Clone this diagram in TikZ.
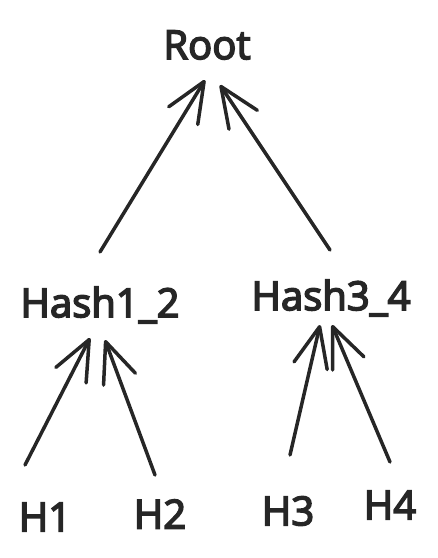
\documentclass[tikz,border=0pt]{standalone}
\usepackage{fontspec}
\setmainfont{Open Sans}[FakeBold=4]
\usetikzlibrary{arrows.meta,positioning}
\tikzset{
  lbl/.style={font=\fontsize{40}{44}\selectfont, text=black!85},
  arr/.style={line width=3.5pt, line cap=round, black!85,
    -{Straight Barb[length=40pt,width=34pt,line width=3.5pt,round]}}
}
\begin{document}
\begin{tikzpicture}[x=1pt,y=1pt]
\useasboundingbox (0,0) rectangle (438,-558);
\node[lbl] (root) at (207,-45) {Root};
\node[lbl] (hash12) at (100,-305) {Hash1\_2};
\node[lbl] (hash34) at (331,-298) {Hash3\_4};
\node[lbl] (h1) at (45,-517) {H1};
\node[lbl] (h2) at (160,-514) {H2};
\node[lbl] (h3) at (288,-511) {H3};
\node[lbl] (h4) at (390,-505) {H4};
% edges into the root
\draw[arr] ([shift={(0,53)}]hash12.center) -- ([shift={(-2,-35)}]root.center);
\draw[arr] ([shift={(-1,48)}]hash34.center) -- ([shift={(13,-40)}]root.center);
% edges into the hashes
\draw[arr] ([shift={(-20,52)}]h1.center) -- ([shift={(-10,-33)}]hash12.center);
\draw[arr] ([shift={(-5,39)}]h2.center) -- ([shift={(5,-35)}]hash12.center);
\draw[arr] ([shift={(2,56)}]h3.center) -- ([shift={(-11,-27)}]hash34.center);
\draw[arr] ([shift={(0,43)}]h4.center) -- ([shift={(1,-27)}]hash34.center);
\end{tikzpicture}
\end{document}
